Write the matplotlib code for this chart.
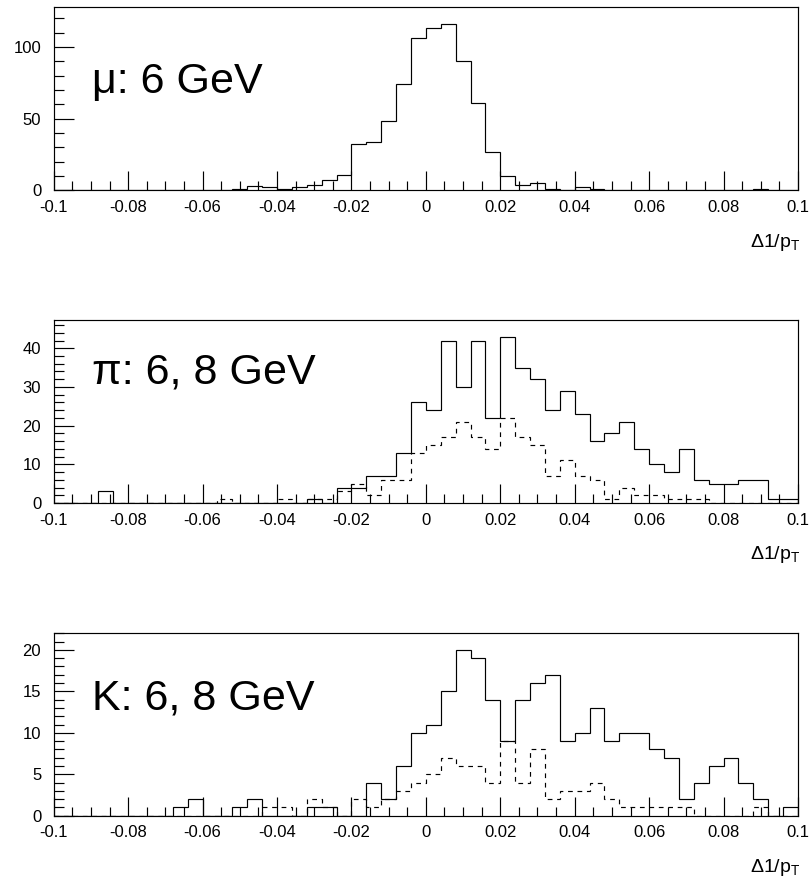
import numpy as np
import matplotlib
matplotlib.use("Agg")
import matplotlib.pyplot as plt
from matplotlib.ticker import MultipleLocator

plt.rcParams['font.family'] = ['Liberation Sans', 'DejaVu Sans']
plt.rcParams['mathtext.fontset'] = 'custom'
plt.rcParams['mathtext.rm'] = 'Liberation Sans'
plt.rcParams['mathtext.it'] = 'Liberation Sans'

# 50 bins from -0.1 to 0.1
edges = np.linspace(-0.1, 0.1, 51)

mu_6 = [0, 0, 0, 0, 0, 0, 0, 0, 0, 0,
        0, 0, 1, 3, 2, 1, 2, 4, 7, 11,
        32, 34, 48, 74, 106, 113, 116, 90, 61, 27,
        10, 4, 5, 1, 0, 2, 1, 0, 0, 0,
        0, 0, 0, 0, 0, 0, 0, 1, 0, 0]

pi_6 = [0, 0, 0, 3, 0, 0, 0, 0, 0, 0,
        0, 0, 0, 0, 0, 0, 0, 1, 0, 4,
        4, 7, 7, 13, 26, 24, 42, 30, 42, 22,
        43, 35, 32, 24, 29, 23, 16, 18, 21, 14,
        10, 8, 14, 6, 5, 5, 6, 6, 1, 1]
pi_8 = [0, 0, 0, 0, 0, 0, 0, 0, 0, 0,
        0, 1, 0, 0, 0, 1, 0, 1, 1, 3,
        5, 2, 6, 6, 13, 15, 17, 21, 17, 14,
        22, 17, 15, 7, 11, 7, 6, 1, 4, 2,
        2, 1, 1, 1, 0, 0, 0, 0, 0, 0]

k_6 = [0, 0, 0, 0, 0, 0, 0, 0, 1, 2,
       0, 0, 1, 2, 0, 0, 0, 1, 1, 0,
       0, 4, 2, 6, 10, 11, 15, 20, 19, 14,
       9, 14, 16, 17, 9, 10, 13, 9, 10, 10,
       8, 7, 2, 4, 6, 7, 4, 2, 0, 1]
k_8 = [0, 0, 0, 0, 0, 0, 0, 0, 0, 0,
       0, 0, 0, 0, 1, 1, 0, 2, 1, 0,
       2, 1, 2, 3, 4, 5, 7, 6, 6, 4,
       9, 4, 8, 2, 3, 3, 4, 2, 1, 1,
       1, 1, 1, 0, 0, 0, 0, 1, 0, 0]

panels = [
    ("\u03bc: 6 GeV", [mu_6], 127.6, 50, 10, [0, 50, 100], 0.53),
    ("\u03c0: 6, 8 GeV", [pi_6, pi_8], 47.3, 10, 2, [0, 10, 20, 30, 40], 0.654),
    ("K: 6, 8 GeV", [k_6, k_8], 22.0, 5, 1, [0, 5, 10, 15, 20], 0.583),
]

W, H = 811, 880
fig = plt.figure(figsize=(W / 100, H / 100), dpi=100)

# axes boxes in pixels: (top, bottom)
boxes = [(7.3, 190.3), (320.0, 503.0), (633.3, 815.7)]
left_px, right_px = 53.7, 798.0

for (label, series, ymax, ymaj, ymin, yt, ty), (top, bot) in zip(panels, boxes):
    ax = fig.add_axes([left_px / W, 1 - bot / H, (right_px - left_px) / W, (bot - top) / H])
    styles = ['-', (0, (4, 4))]
    for vals, ls in zip(series, styles):
        ax.stairs(vals, edges, color='black', linewidth=0.85, linestyle=ls, baseline=0)
    ax.set_xlim(-0.1, 0.1)
    ax.set_ylim(0, ymax)

    ax.xaxis.set_minor_locator(MultipleLocator(0.005))
    ax.yaxis.set_minor_locator(MultipleLocator(ymin))
    ax.set_xticks(np.linspace(-0.1, 0.1, 11))
    ax.set_xticklabels(['-0.1', '-0.08', '-0.06', '-0.04', '-0.02', '0',
                        '0.02', '0.04', '0.06', '0.08', '0.1'])
    ax.set_yticks(yt)
    ax.set_yticklabels([str(v) for v in yt])

    ax.tick_params(axis='x', which='major', direction='in', length=13.5, width=0.85,
                   top=False, labelsize=12, pad=7)
    ax.tick_params(axis='x', which='minor', direction='in', length=6.3, width=0.85, top=False)
    ax.tick_params(axis='y', which='major', direction='in', length=14.4, width=0.85,
                   right=False, labelsize=12, pad=9)
    ax.tick_params(axis='y', which='minor', direction='in', length=7.2, width=0.85, right=False)
    for s in ax.spines.values():
        s.set_linewidth(0.85)

    ax.text(0.051, ty, label, transform=ax.transAxes, fontsize=31,
            ha='left', va='baseline')
    ax.text(1.003, -0.308, '\u0394' + '1/p$_{\\mathrm{T}}$', transform=ax.transAxes,
            fontsize=14, ha='right', va='baseline')

fig.savefig('out.png', dpi=100)
